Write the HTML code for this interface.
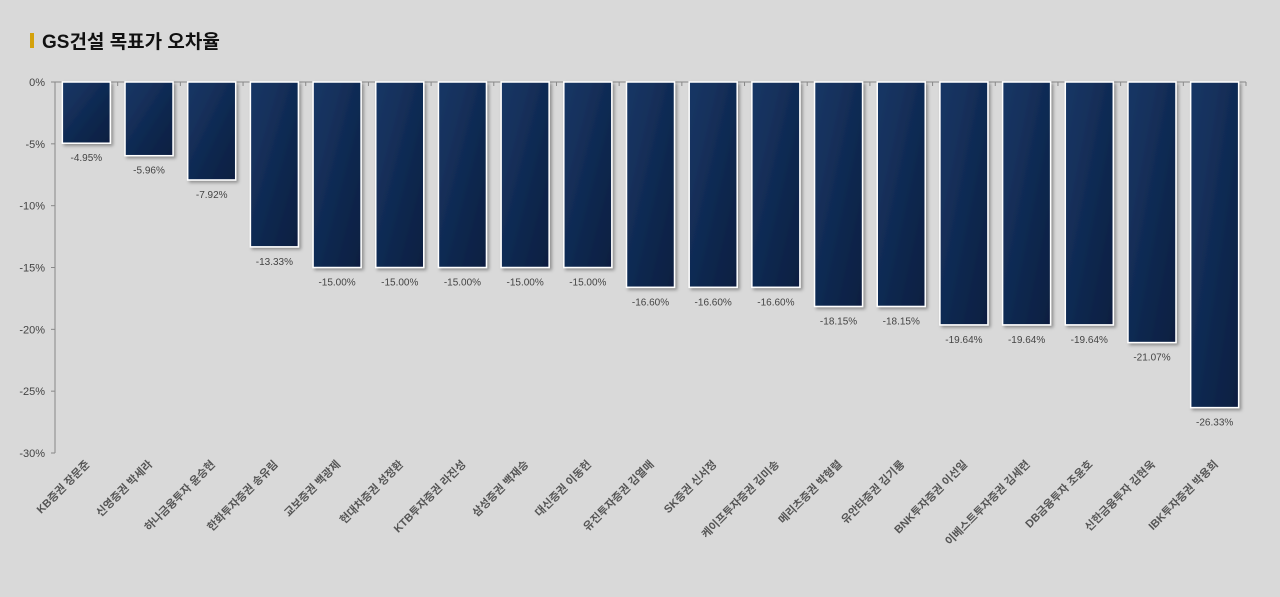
<!DOCTYPE html>
<html><head><meta charset="utf-8"><style>
body{margin:0;background:#d9d9d9;width:1280px;height:592px;overflow:hidden;font-family:"Liberation Sans","Noto Sans CJK KR",sans-serif}
</style></head><body>
<svg width="1280" height="592">
<defs>
<linearGradient id="g" x1="0" y1="0" x2="1" y2="1"><stop offset="0" stop-color="#173766"/><stop offset="1" stop-color="#0a1e40"/></linearGradient>
<filter id="sh" x="-20%" y="-20%" width="150%" height="150%"><feDropShadow dx="2" dy="2" stdDeviation="1.5" flood-color="#000" flood-opacity="0.35"/></filter>
</defs>
<rect x="30" y="33" width="4" height="15" fill="#d4a20c"/>
<text x="42" y="48" font-size="19" font-weight="bold" fill="#111">GS건설 목표가 오차율</text>
<g id="plot"></g>
</svg>
<script>
const categories=["KB증권 장문준","신영증권 박세라","하나금융투자 윤승현","한화투자증권 송유림","교보증권 백광제","현대차증권 성정환","KTB투자증권 라진성","삼성증권 백재승","대신증권 이동헌","유진투자증권 김열매","SK증권 신서정","케이프투자증권 김미송","메리츠증권 박형렬","유안타증권 김기룡","BNK투자증권 이선일","이베스트투자증권 김세련","DB금융투자 조윤호","신한금융투자 김현욱","IBK투자증권 박용희"];
const values=[-4.95,-5.96,-7.92,-13.33,-15,-15,-15,-15,-15,-16.6,-16.6,-16.6,-18.15,-18.15,-19.64,-19.64,-19.64,-21.07,-26.33];
const yTicks=[0,-5,-10,-15,-20,-25,-30];
const NS="http://www.w3.org/2000/svg";
const g=document.getElementById('plot');
const x0=55,x1=1246,y0=82,y1=453;
const bw=(x1-x0)/categories.length;
const y=v=>y0+(v/-30)*(y1-y0);
function mk(t,a){const e=document.createElementNS(NS,t);for(const k in a)e.setAttribute(k,a[k]);g.appendChild(e);return e;}
yTicks.forEach(t=>{
 const l=mk('line',{x1:x0-4,x2:x0,y1:y(t),y2:y(t),stroke:'#888'});
 
 
 const tx=mk('text',{x:x0-10,y:y(t)+4,'text-anchor':'end','font-size':11,fill:'#444'});
 tx.textContent=t+'%';
 
 
});
const ax=mk('line',{x1:x0,x2:x0,y1:y0,y2:y1,stroke:'#888'});


const xa=mk('line',{x1:x0,x2:x1,y1:y0,y2:y0,stroke:'#888'});


for(let i=0;i<=categories.length;i++){
 const t=mk('line',{x1:x0+i*bw,x2:x0+i*bw,y1:y0,y2:y0+4,stroke:'#888'});
 
 
}
categories.forEach((c,i)=>{
 const cx=x0+(i+0.5)*bw, w=48;
 const r=mk('rect',{x:cx-w/2,y:y0,width:w,height:y(values[i])-y0,fill:'url(#g)',stroke:'#fff','stroke-width':1.5,filter:'url(#sh)'});
 
 
 const v=mk('text',{x:cx,y:y(values[i])+18,'text-anchor':'middle','font-size':10,fill:'#444'});
 v.textContent=values[i].toFixed(2)+'%';
 
 
 const l=mk('text',{x:cx+4,y:y1+12,'text-anchor':'end','font-size':11,'font-weight':'bold',fill:'#555',transform:`rotate(-45 ${cx+4} ${y1+12})`});
 l.textContent=c;
 
 
});
</script>
</body></html>
